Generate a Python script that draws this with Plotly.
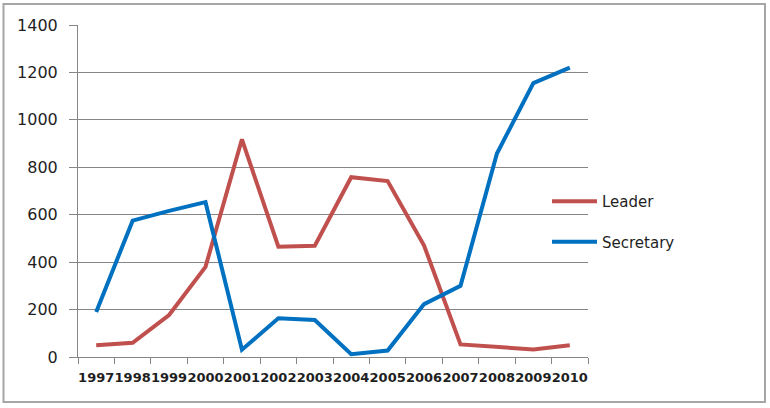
import plotly.graph_objects as go

years = ["1997", "1998", "1999", "2000", "2001", "2002", "2003",
         "2004", "2005", "2006", "2007", "2008", "2009", "2010"]
leader = [50, 60, 177, 380, 918, 465, 469, 758, 742, 470, 53, 43, 32, 50]
secretary = [190, 575, 616, 653, 31, 163, 156, 12, 27, 223, 300, 858, 1155, 1220]
y_ticks = [0, 200, 400, 600, 800, 1000, 1200, 1400]

W, H = 770, 408
L, R, T, B = 78, 182, 25, 51
pw, ph = W - L - R, H - T - B

def px(x):
    return (x - L) / pw

def py(y):
    return (H - B - y) / ph

fig = go.Figure()
fig.add_trace(go.Scatter(x=years, y=leader, name="Leader", mode="lines",
                         line=dict(color="#C0504D", width=4), legendgroup="a"))
fig.add_trace(go.Scatter(x=years, y=secretary, name="Secretary", mode="lines",
                         line=dict(color="#0070C0", width=4), legendgroup="b"))

fig.update_layout(
    width=W, height=H,
    margin=dict(l=L, r=R, t=T, b=B, pad=0, autoexpand=False),
    paper_bgcolor="white", plot_bgcolor="white",
    font=dict(family="DejaVu Sans", color="#1F1F1F"),
    showlegend=True,
    legend=dict(x=px(547), y=py(185), xanchor="left", yanchor="top",
                font=dict(size=15, color="#1F1F1F"),
                tracegroupgap=18, bgcolor="rgba(0,0,0,0)", itemwidth=45),
    xaxis=dict(type="category", showgrid=False, showline=True, linecolor="#868686",
               linewidth=1, ticks="outside", tickson="boundaries", ticklen=6,
               tickcolor="#868686", tickangle=0, automargin=False,
               tickfont=dict(size=13, weight="bold", color="#1F1F1F"),
               range=[-0.5, 13.5], ticklabelstandoff=8),
    yaxis=dict(range=[0, 1400], tickvals=y_ticks, showgrid=True, gridcolor="#868686",
               gridwidth=1, showline=True, linecolor="#868686", linewidth=1,
               ticks="outside", ticklen=8, tickcolor="#868686", zeroline=False,
               automargin=False,
               tickfont=dict(size=16, color="#1F1F1F"), ticklabelstandoff=8),
    shapes=[dict(type="rect", xref="paper", yref="paper",
                 x0=px(3.5), x1=px(765), y0=py(402), y1=py(4),
                 line=dict(color="#A6A6A6", width=2), layer="below")],
)

fig.write_html("out.html", config={"displayModeBar": False},
               post_script="document.body.style.margin='0';")
